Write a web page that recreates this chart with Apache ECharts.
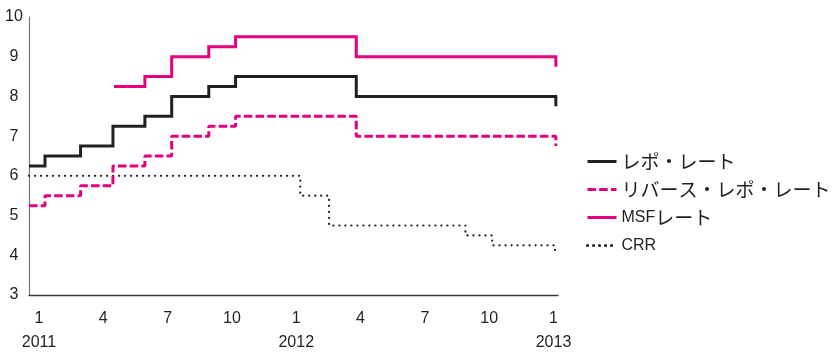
<!DOCTYPE html>
<html>
<head>
<meta charset="utf-8">
<script src="https://cdn.jsdelivr.net/npm/echarts@6/dist/echarts.min.js"></script>
<style>
html,body{margin:0;padding:0;background:#fff;}
#chart{width:834px;height:352px;}
</style>
</head>
<body>
<div id="chart"></div>
<script>
// x values: months counted from the January 2011 tick (0 = "1 / 2011")
const seriesNames = ['レポ・レート', 'リバース・レポ・レート', 'MSFレート', 'CRR'];

const repoX = [-0.466, 0.28, 1.94, 3.45, 4.94, 6.19, 7.92, 9.17, 14.80, 24.11];
const repoY = [6.25, 6.5, 6.75, 7.25, 7.5, 8.0, 8.25, 8.5, 8.0, 7.75];

const reverseRepoX = [-0.466, 0.28, 1.94, 3.45, 4.94, 6.19, 7.92, 9.17, 14.80, 24.11];
const reverseRepoY = [5.25, 5.5, 5.75, 6.25, 6.5, 7.0, 7.25, 7.5, 7.0, 6.75];

const msfX = [3.50, 4.94, 6.19, 7.92, 9.17, 14.80, 24.11];
const msfY = [8.25, 8.5, 9.0, 9.25, 9.5, 9.0, 8.75];

const crrX = [-0.466, 12.19, 13.53, 19.89, 21.14, 24.07];
const crrY = [6.0, 5.5, 4.75, 4.5, 4.25, 4.0];

const tickPositions = [0, 3, 6, 9, 12, 15, 18, 21, 24];
const monthLabels = ['1', '4', '7', '10', '1', '4', '7', '10', '1'];
const yearLabels = ['2011', '', '', '', '2012', '', '', '', '2013'];

const yTicks = [3, 4, 5, 6, 7, 8, 9, 10];

const xMin = -0.466, xMax = 24.21;

const BLACK = '#231f20';
const PINK = '#e4007f';

function pairs(xs, ys) { return xs.map((x, i) => [x, ys[i]]); }

const chart = echarts.init(document.getElementById('chart'), null, {renderer: 'canvas'});

const option = {
  animation: false,
  backgroundColor: '#ffffff',
  grid: { left: 29, top: 17, width: 529, height: 278, containLabel: false, outerBoundsMode: 'none' },
  xAxis: {
    type: 'value',
    min: xMin,
    max: xMax,
    splitLine: { show: false },
    axisTick: { show: false },
    axisLine: { show: true, onZero: false, lineStyle: { color: '#3a3a3a', width: 1.3 } },
    axisLabel: {
      customValues: tickPositions,
      margin: 12,
      color: BLACK,
      fontFamily: 'Liberation Sans, Arial, sans-serif',
      fontSize: 16,
      lineHeight: 24,
      formatter: function (v) {
        const i = tickPositions.indexOf(Math.round(v));
        if (i < 0) return '';
        return yearLabels[i] ? monthLabels[i] + '\n' + yearLabels[i] : monthLabels[i];
      }
    }
  },
  yAxis: {
    type: 'value',
    min: 3,
    max: 10,
    interval: 1,
    splitLine: { show: false },
    axisTick: { show: false },
    axisLine: { show: true, onZero: false, lineStyle: { color: '#777', width: 1.2 } },
    axisLabel: {
      customValues: yTicks,
      margin: 15,
      align: 'center',
      color: BLACK,
      fontFamily: 'Liberation Sans, Arial, sans-serif',
      fontSize: 16,
      padding: [0, 0, 4, 0]
    }
  },
  legend: {
    orient: 'vertical',
    left: 581,
    top: 146,
    itemWidth: 29,
    itemHeight: 14,
    itemGap: 7,
    itemStyle: { color: 'rgba(0,0,0,0)', borderWidth: 0, opacity: 0 },
    lineStyle: { width: 3 },
    textStyle: {
      color: BLACK,
      fontFamily: 'Noto Sans CJK JP, sans-serif',
      fontSize: 19,
      lineHeight: 21,
      rich: {
        l: { fontFamily: 'Liberation Sans, Arial, sans-serif', fontSize: 16, color: BLACK, lineHeight: 21 }
      }
    },
    formatter: function (name) {
      return name.replace(/[A-Za-z]+/g, function (m) { return '{l|' + m + '}'; });
    },
    data: seriesNames
  },
  series: [
    {
      name: seriesNames[0], type: 'line', step: 'end', symbol: 'none',
      data: pairs(repoX, repoY), z: 4,
      lineStyle: { color: BLACK, width: 3, cap: 'butt', join: 'miter' },
      itemStyle: { color: BLACK }
    },
    {
      name: seriesNames[1], type: 'line', step: 'end', symbol: 'none',
      data: pairs(reverseRepoX, reverseRepoY), z: 3,
      lineStyle: { color: PINK, width: 3, type: [8.5, 3.2], cap: 'butt' },
      itemStyle: { color: PINK }
    },
    {
      name: seriesNames[2], type: 'line', step: 'end', symbol: 'none',
      data: pairs(msfX, msfY), z: 3,
      lineStyle: { color: PINK, width: 3, cap: 'butt', join: 'miter' },
      itemStyle: { color: PINK }
    },
    {
      name: seriesNames[3], type: 'line', step: 'end', symbol: 'none',
      data: pairs(crrX, crrY), z: 2,
      lineStyle: { color: BLACK, width: 2.2, type: [0.1, 5.9], cap: 'round' },
      itemStyle: { color: BLACK }
    }
  ]
};

chart.setOption(option);
</script>
</body>
</html>
